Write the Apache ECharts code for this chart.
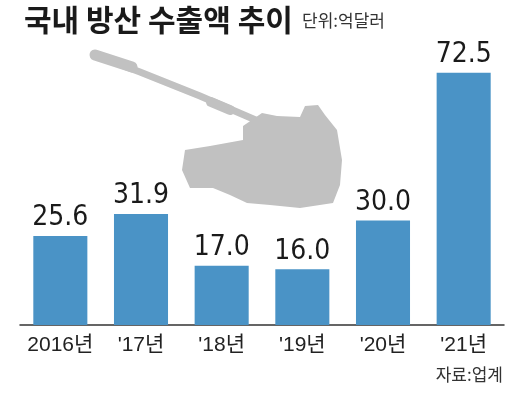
<!DOCTYPE html>
<html><head><meta charset="utf-8">
<script src="https://cdn.jsdelivr.net/npm/echarts@6/dist/echarts.min.js"></script>
<style>html,body{margin:0;padding:0;background:#fff}#c{width:520px;height:404px}</style>
</head><body><div id="c"></div>
<script>
var categories = ['2016년', "'17년", "'18년", "'19년", "'20년", "'21년"];
var values = [25.6, 31.9, 17.0, 16.0, 30.0, 72.5];
var titleText = '국내 방산 수출액 추이';
var unitText = '단위:억달러';
var sourceText = '자료:업계';

var chart = echarts.init(document.getElementById('c'));
var narrow = '"DejaVu Sans Condensed", "Liberation Sans", "Noto Sans CJK KR", sans-serif';
var latin = '"Liberation Sans", "Noto Sans CJK KR", sans-serif';
var kr = '"Noto Sans CJK KR", sans-serif';
chart.setOption({
  animation: false,
  backgroundColor: '#fff',
  grid: { left: 20, right: 16, top: 46.6, bottom: 79 },
  xAxis: {
    type: 'category', data: categories,
    axisTick: { show: false },
    axisLine: { lineStyle: { color: '#333', width: 1.5 } },
    axisLabel: { interval: 0, color: '#222', fontSize: 21, fontFamily: latin, margin: 10 }
  },
  yAxis: { type: 'value', min: 0, max: 80, show: false, splitLine: { show: false } },
  graphic: [
    { type: 'text', left: 24, top: 5, style: { text: titleText, font: 'bold 30px ' + kr, fill: '#1a1a1a' } },
    { type: 'text', left: 302, top: 12, style: { text: unitText, font: '17px ' + kr, fill: '#333' } },
    { type: 'text', right: 17, top: 366, style: { text: sourceText, font: '17px ' + kr, fill: '#333' } },
    { type: 'polyline', z: -1, shape: { points: [[97,56],[140,72],[200,96],[258,121]] },
      style: { stroke: '#c1c1c1', lineWidth: 7, lineCap: 'round' } },
    { type: 'polyline', z: -1, shape: { points: [[95,55],[132,67]] },
      style: { stroke: '#c1c1c1', lineWidth: 11, lineCap: 'round' } },
    { type: 'polyline', z: -1, shape: { points: [[211,102],[230,110]] },
      style: { stroke: '#c1c1c1', lineWidth: 10, lineCap: 'round' } },
    { type: 'polygon', z: -1, shape: { points: [
        [185,150],[210,146],[243,140],[243,126],[262,113],[277,116],[300,117],[305,106],[318,105],
        [325,115],[337,130],[342,160],[340,185],[333,203],[300,208],[270,205],[247,203],[230,195],
        [213,188],[190,188],[182,170]] },
      style: { fill: '#c1c1c1' } }
  ],
  series: [{
    type: 'bar', data: values, barWidth: '67%',
    itemStyle: { color: '#4a93c6' },
    label: { show: true, position: 'top', distance: 4, color: '#1a1a1a', fontSize: 28,
      fontFamily: narrow, formatter: function (p) { return p.value.toFixed(1); } }
  }]
});
</script></body></html>
